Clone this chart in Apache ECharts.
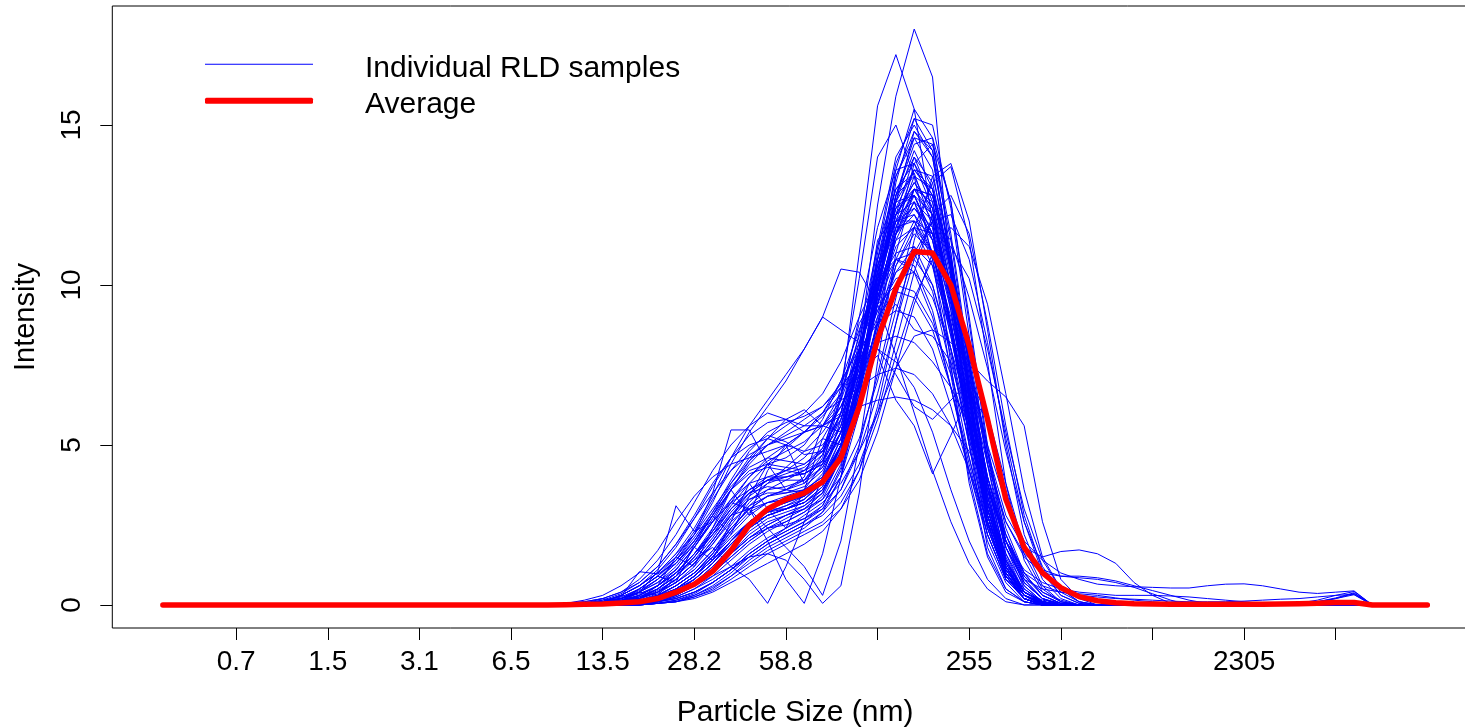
<!DOCTYPE html>
<html><head><meta charset="utf-8">
<script src="https://cdn.jsdelivr.net/npm/echarts@6.0.0/dist/echarts.min.js"></script>
<style>html,body{margin:0;padding:0;background:#fff}#chart{width:1465px;height:728px}</style>
</head><body><div id="chart"></div>
<script>
// 70 DLS size bins (nm); x position of each bin is its 1-based index
const sizeBinsNm = [0.4,0.4632,0.5365,0.6213,0.7195,0.8332,0.9649,1.117,1.294,1.499,1.736,2.01,2.328,2.696,3.122,3.615,4.187,4.849,5.615,6.503,7.531,8.721,10.1,11.7,13.54,15.69,18.17,21.04,24.36,28.21,32.67,37.84,43.82,50.75,58.77,68.06,78.82,91.28,105.7,122.4,141.8,164.2,190.1,220.2,255.0,295.3,342.0,396.1,458.7,531.2,615.1,712.4,825.0,955.4,1106,1281,1484,1718,1990,2305,2669,3091,3580,4145,4801,5560,6439,7456,8635,10000];
const tickBins = [5,10,15,20,25,30,35,40,45,50,55,60,65];
const tickLabels = ['0.7','1.5','3.1','6.5','13.5','28.2','58.8','','255','531.2','','2305',''];
const yTicks = [0,5,10,15];

// Individual samples: values start at bin 22; bins outside a list are 0
const SAMPLE_FIRST_BIN = 22;
const s01 = [0,0,0,0.05,0.1,0.2,0.4,0.8,1.3,2.0,2.8,3.3,3.6,3.7,3.9,4.5,6.0,8.5,11.2,13.0,13.5,11.8,8.6,5.2,2.5,1.0,0.3,0.1,0];
const s02 = [0,0,0,0,0.05,0.1,0.3,0.6,1.0,1.6,2.4,3.0,3.2,3.3,3.5,3.9,5.0,7.2,10.0,12.6,14.2,13.0,9.8,6.0,2.8,1.1,0.4,0.1,0];
const s03 = [0,0,0,0.1,0.2,0.4,0.7,1.1,1.8,2.7,3.6,4.2,4.4,4.3,4.2,4.5,5.4,7.4,9.6,11.2,11.8,10.6,8.0,5.0,2.4,0.9,0.3,0.1,0];
const s04 = [0,0,0,0,0,0.1,0.2,0.4,0.8,1.3,2.0,2.6,3.0,3.0,3.2,3.6,4.6,6.8,9.8,12.6,14.8,14.0,10.6,6.4,3.0,1.1,0.3,0,0];
const s05 = [0,0,0,0,0,0.05,0.1,0.3,0.6,1.0,1.6,2.2,2.6,2.8,3.0,3.5,5.0,8.0,12.5,15.9,18.0,16.5,10.2,5.0,1.8,0.5,0.1,0];
const s06 = [0,0,0,0,0,0.1,0.2,0.4,0.8,1.3,2.0,2.6,3.0,3.3,3.6,4.4,6.5,11.0,15.6,17.2,15.5,12.0,7.5,3.8,1.5,0.4,0.1,0];
const s07 = [0,0,0,0,0,0,0.1,0.3,0.6,1.1,1.7,2.3,2.7,2.9,3.1,3.5,4.6,7.0,10.4,13.6,15.5,14.6,11.0,6.6,3.0,1.0,0.2,0];
const s08 = [0,0,0,0,0.05,0.1,0.3,0.6,1.0,1.6,2.4,3.0,3.4,3.6,3.9,4.7,6.8,10.2,14.0,15.0,13.4,10.8,7.2,4.0,1.6,0.5,0.1,0];
const s09 = [0,0,0,0,0,0,0.05,0.1,0.3,0.6,1.0,1.5,1.9,2.2,2.5,2.9,3.6,5.0,7.2,9.6,11.8,13.2,13.7,11.4,7.6,3.8,1.4,0.4,0.1,0];
const s10 = [0,0,0.05,0.1,0.2,0.4,0.8,1.4,2.2,3.2,4.4,5.4,6.2,7.0,8.0,9.0,10.5,10.4,9.4,7.8,6.0,4.2,2.6,1.3,0.5,0.1,0];
const s11 = [0,0,0.05,0.1,0.3,0.6,1.0,1.6,2.4,3.4,4.6,5.6,6.4,7.2,8.0,9.0,8.6,8.2,8.0,7.6,6.8,5.4,3.6,2.0,0.8,0.2,0];
const s12 = [0,0,0,0.05,0.1,0.2,0.4,0.7,1.1,1.7,2.5,3.2,3.8,4.3,4.8,5.4,6.2,7.2,7.8,6.4,5.6,4.1,5.3,6.6,5.8,3.6,1.6,0.5,0.1,0];
const s13 = [0,0,0.05,0.1,0.3,0.6,1.0,1.6,2.2,3.5,5.47,5.47,4.4,4.6,5.0,5.8,7.0,8.6,10.0,11.0,11.2,10.0,7.8,5.0,2.4,0.9,0.2,0];
const s14 = [0,0,0,0.05,0.15,0.4,1.04,3.1,2.3,2.6,3.2,3.6,3.9,4.2,4.6,5.2,6.2,7.6,9.2,10.4,10.8,10.0,8.0,5.4,2.8,1.1,0.3,0.05,0];
const s15 = [0,0,0.05,0.15,0.26,1.04,0.97,1.3,1.9,2.6,3.3,3.8,4.0,4.0,4.1,4.4,5.2,6.8,8.8,10.4,11.2,10.6,8.6,5.8,3.0,1.2,0.3,0.05,0];
const s16 = [0,0,0,0.05,0.1,0.3,0.6,1.0,1.4,1.8,1.2,0.8,0.05,1.2,2.6,4.0,5.8,8.0,10.2,12.0,12.8,11.6,8.8,5.6,2.6,0.9,0.2,0];
const s17 = [0,0,0,0,0.05,0.2,0.5,1.0,1.6,2.2,2.8,3.0,2.0,0.8,0.05,1.6,4.0,7.0,10.0,12.2,13.2,12.4,9.6,6.0,2.8,1.0,0.2,0];
const s18 = [0,0,0,0.05,0.1,0.3,0.6,1.1,1.8,2.6,3.2,3.0,2.4,1.8,1.2,0.3,2.0,5.0,8.6,11.6,13.0,12.6,10.0,6.6,3.2,1.2,0.3,0];
const s19 = [0,0,0,0,0.05,0.1,0.2,0.4,0.6,0.9,1.2,1.5,1.6,1.4,0.8,0.05,0.6,3.5,7.6,11.0,13.0,12.8,10.4,7.0,3.6,1.3,0.3,0];
const s20 = [0,0,0.05,0.1,0.3,0.6,1.0,1.5,2.2,3.0,3.8,4.5,5.0,5.3,5.6,6.0,6.4,6.8,7.2,7.4,7.2,6.6,5.6,4.2,2.6,1.3,0.5,0.1,0];
const s21 = [0,0,0,0.1,0.2,0.5,0.9,1.4,2.0,2.8,3.6,4.4,5.0,5.4,5.8,6.2,6.8,7.6,8.2,8.4,8.2,7.6,6.8,5.6,4.0,2.2,0.9,0.3,0.05,0];
const s22 = [0,0,0,0,0,0.05,0.1,0.2,0.4,0.7,1.1,1.6,2.0,2.4,2.8,3.2,3.8,4.8,6.0,7.4,8.4,8.6,8.2,7.6,7.0,6.5,5.6,2.6,0.8,0.2,0];
const s23 = [0,0,0,0,0.05,0.1,0.2,0.4,0.7,1.2,1.8,2.4,2.8,3.0,3.2,3.6,4.6,6.4,8.6,10.6,11.8,11.6,10.0,7.6,4.8,2.8,1.8,1.5,1.67,1.72,1.6,1.3,0.7,0.3,0.05,0];
const s24 = [0,0,0,0,0.05,0.1,0.3,0.5,0.9,1.4,2.0,2.6,3.0,3.2,3.4,3.8,4.8,6.6,8.8,10.8,12.0,11.6,9.8,7.4,5.0,3.2,2.0,1.4,1.0,0.8,0.65,0.6,0.57,0.55,0.53,0.53,0.6,0.65,0.66,0.6,0.5,0.4,0.36,0.4,0.44,0];
const s25 = [0,0,0,0.05,0.1,0.25,0.5,0.9,1.5,2.2,3.0,3.6,4.0,4.2,4.4,4.9,6.0,8.0,10.6,12.4,13.0,12.2,9.6,6.4,3.4,1.4,0.4,0.1,0];
const s26 = [0,0,0,0,0.05,0.15,0.35,0.7,1.2,1.9,2.7,3.3,3.5,3.5,3.6,4.0,5.2,7.6,10.8,13.4,14.6,13.6,10.4,6.6,3.2,1.2,0.3,0];
const s27 = [0,0.05,0.1,0.2,0.4,0.7,1.2,1.9,2.8,3.8,4.6,5.0,5.2,5.0,4.8,5.0,5.8,7.4,9.4,10.8,11.0,9.8,7.4,4.6,2.2,0.8,0.2,0];
const s28 = [0,0,0,0,0,0.05,0.15,0.3,0.6,1.0,1.5,2.0,2.4,2.6,2.9,3.4,4.6,6.8,9.8,12.8,14.6,14.4,11.6,7.6,3.8,1.4,0.4,0.1,0];
const s29 = [0,0,0,0.05,0.1,0.2,0.5,0.9,1.5,2.3,3.2,4.0,4.6,5.0,5.4,5.9,6.6,7.8,9.2,10.2,10.4,9.6,8.0,6.0,3.8,2.0,0.8,0.2,0];
const s30 = [0,0,0,0,0.05,0.1,0.2,0.4,0.7,1.1,1.6,2.1,2.4,2.5,2.7,3.1,4.2,6.2,9.0,11.8,13.4,13.0,10.8,7.6,4.4,2.0,0.7,0.2,0];
const s31 = [0,0,0,0,0,0.05,0.1,0.25,0.5,0.8,1.2,1.7,2.1,2.4,2.7,3.0,3.6,4.8,6.6,8.8,10.8,12.0,12.2,10.8,8.2,5.2,2.6,1.0,0.3,0.05,0];
const s32 = [0,0,0.05,0.1,0.2,0.4,0.7,1.2,1.9,2.8,3.8,4.6,5.2,5.6,6.0,6.6,7.6,9.0,10.2,10.8,10.4,9.0,6.8,4.4,2.2,0.8,0.2,0];
const s33 = [0,0,0,0,0.05,0.1,0.3,0.6,1.0,1.5,2.1,2.6,2.9,3.0,3.2,3.7,5.0,7.6,11.0,13.8,15.2,14.2,10.6,6.4,2.8,0.9,0.2,0];
const s34 = [0,0,0.05,0.15,0.35,0.7,1.2,1.9,2.7,3.5,4.2,4.7,5.0,5.2,5.4,5.6,5.9,6.2,6.4,6.5,6.4,6.1,5.6,4.8,3.6,2.2,1.0,0.3,0.05,0];
const s35 = [0,0,0,0,0,0,0.05,0.1,0.25,0.5,0.9,1.4,1.8,2.1,2.4,2.9,4.0,6.4,9.8,13.2,15.2,15.0,12.4,8.4,4.4,1.6,0.4,0.1,0];
const s36 = [0,0,0,0.05,0.1,0.2,0.45,0.8,1.3,1.9,2.6,3.1,3.4,3.5,3.7,4.2,5.4,7.6,10.4,12.4,12.8,11.6,9.2,6.2,3.4,1.4,0.4,0.1,0];
const s37 = [0,0,0,0.05,0.15,0.3,0.6,1.1,1.8,2.6,3.6,4.5,5.2,5.8,6.1,5.6,5.4,6.4,8.4,10.6,11.6,11.0,8.8,5.8,2.8,1.0,0.2,0];
const s38 = [0,0,0,0,0.05,0.1,0.2,0.35,0.6,1.0,1.5,2.0,2.4,2.7,3.0,3.5,4.6,6.6,9.4,12.0,13.6,13.4,11.0,7.4,3.8,1.4,0.4,0.1,0];
const s39 = [0,0,0,0.05,0.1,0.2,0.4,0.7,1.1,1.7,2.4,3.0,3.4,3.6,3.8,4.3,5.4,7.4,9.8,11.6,12.2,11.4,9.4,6.8,4.4,2.6,1.6,1.1,0.9,0.85,0.8,0.7,0.55,0.35,0.15,0];
const s40 = [0,0,0,0,0.05,0.15,0.3,0.6,1.0,1.5,2.2,2.8,3.2,3.4,3.6,4.0,5.0,7.0,9.8,12.2,13.2,12.4,9.6,6.2,3.2,1.2,0.4,0.15,0.05,0,0,0,0,0,0,0,0,0,0,0,0,0.02,0.1,0.22,0.38,0];
const s41 = [0,0,0,0.05,0.1,0.25,0.5,0.9,1.4,2.1,2.9,3.5,3.9,4.0,4.1,4.5,5.6,7.8,10.4,12.0,12.2,11.0,8.6,5.8,3.0,1.2,0.4,0.1,0,0,0,0,0,0,0,0,0,0,0,0,0.02,0.06,0.15,0.3,0.42,0];
const s42 = [0,0,0,0,0.05,0.1,0.25,0.5,0.9,1.4,2.0,2.5,2.8,3.0,3.2,3.7,4.8,6.8,9.4,11.6,12.8,12.2,10.0,7.0,4.0,2.0,1.0,0.6,0.4,0.3,0.25,0.2,0.18,0.15,0.12,0.1,0.1,0.1,0.12,0.15,0.18,0.2,0.25,0.3,0.33,0];
const s43 = [0,0,0.05,0.1,0.2,0.35,0.6,1.0,1.6,2.4,3.3,4.0,4.5,4.8,5.1,5.6,6.6,8.4,10.6,12.0,12.0,10.8,8.4,5.6,3.0,1.2,0.3,0.05,0];
const s44 = [0,0.05,0.1,0.2,0.4,0.8,1.4,2.2,3.2,4.2,5.0,5.6,6.0,5.8,5.4,5.6,6.4,8.0,9.8,10.8,10.6,9.2,6.8,4.2,2.0,0.7,0.1,0];
const s45 = [0,0,0,0,0,0.05,0.1,0.2,0.4,0.7,1.1,1.6,2.0,2.3,2.6,3.0,4.0,6.0,8.8,11.6,13.8,14.4,12.6,9.0,5.0,2.0,0.6,0.1,0];
const s46 = [0,0,0,0,0,0,0.05,0.15,0.3,0.55,0.9,1.3,1.7,2.0,2.3,2.6,3.2,4.2,5.8,7.8,9.6,10.8,11.2,10.2,8.0,5.4,3.0,1.4,0.5,0.1,0];
const s47 = [0,0,0,0.05,0.15,0.3,0.6,1.0,1.6,2.3,3.1,3.8,4.4,4.9,5.4,6.0,6.8,7.6,8.0,7.2,6.2,5.8,6.4,7.0,6.0,3.8,1.8,0.6,0.1,0];
const s48 = [0,0,0,0,0.05,0.1,0.25,0.5,0.8,1.3,1.9,2.5,2.9,3.1,3.3,3.8,5.0,7.2,10.2,12.8,14.0,13.2,10.4,6.8,3.4,1.2,0.3,0.05,0];
const s49 = [0,0,0,0.05,0.1,0.2,0.4,0.8,1.3,2.0,2.8,3.4,3.8,4.0,4.2,4.7,5.8,7.8,10.2,11.8,12.0,11.0,8.8,6.0,3.6,2.0,1.1,0.7,0.5,0.4,0.35,0.3,0.3,0.3,0.28,0.25,0.2,0.15,0.1,0.05,0];
const s50 = [0,0.05,0.15,0.3,0.6,1.0,1.7,2.6,3.4,4.0,4.4,4.6,4.8,5.0,5.4,6.0,7.0,8.0,8.8,9.2,9.0,8.0,6.2,4.2,2.2,0.8,0.2,0];
const s51 = [0,0,0,0,0.05,0.1,0.2,0.5,0.9,1.5,2.3,3.1,3.6,3.9,4.2,4.9,6.4,9.0,11.8,13.6,13.8,12.4,9.2,5.8,2.8,1.0,0.3,0.05,0];
const s52 = [0,0,0,0.05,0.2,0.5,0.9,1.5,2.3,3.3,4.2,4.9,5.3,5.1,4.7,4.8,5.6,7.2,9.4,11.4,12.6,12.0,9.8,6.6,3.4,1.3,0.4,0.1,0];
const s53 = [0,0,0,0,0,0.05,0.15,0.35,0.7,1.2,1.8,2.4,2.8,3.0,3.3,3.9,5.2,7.8,11.2,14.0,15.0,14.0,10.8,6.8,3.2,1.1,0.3,0];
const s54 = [0,0,0.05,0.1,0.25,0.5,0.9,1.4,2.1,2.9,3.7,4.3,4.6,4.5,4.4,4.8,6.0,8.2,10.8,12.6,12.8,11.4,8.6,5.4,2.6,0.9,0.2,0];
const s55 = [0,0,0,0,0.05,0.1,0.25,0.5,0.9,1.4,2.0,2.6,3.0,3.2,3.5,4.1,5.4,7.8,10.8,13.0,13.8,12.8,10.2,7.0,4.0,1.8,0.7,0.2,0];
const s56 = [0,0,0,0.05,0.1,0.3,0.6,1.0,1.6,2.3,3.0,3.5,3.7,3.6,3.5,3.9,5.0,7.0,9.6,11.4,11.8,11.0,9.0,6.4,3.8,1.8,0.7,0.2,0.05,0];
const s57 = [0,0,0,0,0.05,0.1,0.2,0.4,0.7,1.1,1.6,2.1,2.5,2.8,3.1,3.6,4.8,7.0,10.0,12.6,13.6,12.8,10.6,7.6,4.6,2.2,0.8,0.2,0];
const s58 = [0,0,0.05,0.1,0.3,0.6,1.1,1.8,2.7,3.7,4.6,5.3,5.7,5.8,5.6,5.6,6.2,7.6,9.0,9.8,9.6,8.6,6.8,4.6,2.4,0.9,0.2,0];
const s59 = [0,0,0,0,0,0.05,0.1,0.25,0.5,0.9,1.4,1.9,2.3,2.6,2.9,3.3,4.4,6.8,10.2,13.4,14.8,14.2,11.4,7.4,3.6,1.2,0.3,0];
const s60 = [0,0,0,0.05,0.1,0.2,0.4,0.8,1.3,2.0,2.8,3.5,3.9,4.1,4.3,4.8,6.0,8.0,10.4,12.0,12.4,11.6,9.6,6.8,4.0,2.0,0.9,0.4,0.15,0];
const s61 = [0,0,0,0,0.05,0.15,0.3,0.6,1.0,1.6,2.3,2.9,3.2,3.3,3.4,3.8,4.9,7.0,9.6,11.8,13.0,12.8,10.8,7.8,4.8,2.4,1.0,0.3,0.05,0];
const s62 = [0,0,0,0.1,0.2,0.4,0.8,1.3,2.0,2.9,3.9,4.8,5.4,5.7,5.9,6.2,6.9,8.2,9.4,10.0,9.8,8.8,7.2,5.2,3.2,1.6,0.6,0.1,0];
const s63 = [0,0,0,0,0,0,0.05,0.15,0.35,0.7,1.1,1.6,2.0,2.3,2.6,3.1,4.3,6.6,9.8,12.8,14.4,14.6,12.6,8.8,4.8,1.8,0.5,0.1,0];
const s64 = [0,0,0.05,0.1,0.2,0.45,0.8,1.3,2.0,2.8,3.6,4.1,4.3,4.2,4.1,4.4,5.6,7.8,10.4,12.2,12.6,11.4,8.8,5.6,2.8,1.0,0.3,0.05,0];
const s65 = [0,0,0,0,0.05,0.1,0.2,0.4,0.8,1.3,1.9,2.5,2.9,3.1,3.4,3.9,5.0,7.0,9.8,12.2,13.0,12.0,9.6,6.6,3.8,1.8,0.8,0.5,0.4,0.35,0.3,0.22,0.15,0.1,0.05,0];
const s66 = [0,0,0,0.05,0.1,0.25,0.5,0.9,1.5,2.2,3.0,3.6,3.9,3.9,3.9,4.3,5.4,7.6,10.6,12.8,13.4,12.2,9.4,6.0,3.0,1.1,0.3,0.05,0,0,0,0,0,0,0,0,0,0,0,0,0,0.03,0.1,0.2,0.32,0];
const s67 = [0,0,0,0,0.05,0.1,0.2,0.45,0.8,1.3,1.9,2.4,2.8,3.0,3.3,3.8,5.0,7.2,10.0,12.4,13.6,13.0,10.6,7.2,3.8,1.5,0.4,0.1,0,0,0,0,0,0,0,0,0,0,0,0,0,0.02,0.08,0.2,0.36,0];
const s68 = [0,0,0,0.1,0.3,0.2,0.6,1.5,1.2,2.4,3.6,2.8,4.2,5.0,3.8,4.6,6.6,8.8,9.8,11.6,12.6,11.0,8.4,5.6,2.6,0.9,0.2,0];
const s69 = [0,0,0,0.05,0.1,0.4,0.3,0.9,1.8,1.4,2.6,3.8,3.0,2.4,3.6,5.2,5.0,7.8,11.4,12.2,14.0,12.6,9.6,5.8,2.6,0.8,0.2,0];
const s70 = [0,0,0.05,0.2,0.1,0.5,0.9,0.7,1.9,2.8,2.2,3.4,4.4,3.6,4.0,5.6,6.0,6.8,8.8,9.4,8.6,8.4,7.6,5.4,3.2,1.4,0.4,0.05,0];
const s71 = [0,0,0,0,0.05,0.1,0.25,0.5,0.9,1.4,2.0,2.6,3.0,3.2,3.4,3.9,5.0,7.0,9.6,11.6,12.4,11.8,9.8,7.2,4.6,2.6,1.5,1.0,0.9,0.9,0.85,0.75,0.6,0.45,0.3,0.15,0.05,0];
const s72 = [0,0,0,0,0,0,0.05,0.1,0.25,0.45,0.8,1.2,1.6,1.9,2.2,2.5,3.0,3.9,5.4,7.4,9.4,11.0,11.8,11.2,9.4,6.6,3.6,1.5,0.5,0.1,0];
const s73 = [0,0,0,0,0,0.05,0.1,0.2,0.4,0.7,1.1,1.5,1.9,2.2,2.5,2.8,3.4,4.4,6.0,8.2,10.4,12.2,12.8,11.6,8.8,5.6,2.8,1.1,0.3,0.05,0];
const s74 = [0,0,0,0,0.05,0.1,0.2,0.4,0.7,1.1,1.6,2.1,2.5,2.8,3.0,3.3,4.0,5.2,7.0,9.2,11.0,12.0,11.4,9.6,7.4,4.8,2.6,1.2,0.4,0.1,0];
const s75 = [0,0,0,0,0,0,0.05,0.1,0.2,0.4,0.7,1.0,1.3,1.6,1.9,2.3,3.0,4.2,6.2,8.8,11.4,13.4,13.8,12.0,8.6,5.0,2.2,0.8,0.2,0];
const samples = [s01,s02,s03,s04,s05,s06,s07,s08,s09,s10,s11,s12,s13,s14,s15,s16,s17,s18,s19,s20,s21,s22,s23,s24,s25,s26,s27,s28,s29,s30,s31,s32,s33,s34,s35,s36,s37,s38,s39,s40,s41,s42,s43,s44,s45,s46,s47,s48,s49,s50,s51,s52,s53,s54,s55,s56,s57,s58,s59,s60,s61,s62,s63,s64,s65,s66,s67,s68,s69,s70,s71,s72,s73,s74,s75];

// Average curve, bins 1..70
const averageValues = [0,0,0,0,0,0,0,0,0,0,0,0,0,0,0,0,0,0,0,0,0,0,0.01,0.02,0.03,0.06,0.1,0.2,0.4,0.65,1.05,1.7,2.5,3.0,3.3,3.5,3.85,4.6,6.2,8.3,9.9,11.05,11.0,10.0,8.1,5.8,3.3,1.8,1.0,0.54,0.26,0.13,0.07,0.04,0.03,0.02,0.02,0.02,0.02,0.02,0.02,0.03,0.04,0.05,0.08,0.08,0,0,0,0];

const SAMPLE_NAME = 'Individual RLD samples';
const AVG_NAME = 'Average';
const FONT = '"Liberation Sans", Arial, sans-serif';

function sampleData(vals) {
  return sizeBinsNm.map((_, i) => {
    const bin = i + 1, k = bin - SAMPLE_FIRST_BIN;
    return [bin, (k >= 0 && k < vals.length) ? vals[k] : 0];
  });
}

const series = samples.map(vals => ({
  name: SAMPLE_NAME, type: 'line', data: sampleData(vals),
  symbol: 'none', showSymbol: false, silent: true, animation: false,
  lineStyle: { color: '#0000ff', width: 1 }, itemStyle: { color: '#0000ff' }, z: 2
}));
series.push({
  name: AVG_NAME, type: 'line', data: averageValues.map((v, i) => [i + 1, v]),
  symbol: 'none', showSymbol: false, silent: true, animation: false,
  lineStyle: { color: '#ff0000', width: 5.5, cap: 'round', join: 'round' }, itemStyle: { color: '#ff0000' }, z: 5
});

const legendText = {
  fontFamily: FONT, fontSize: 30, color: '#000', padding: [0, 0, 0, 47],
  rich: { t: { fontFamily: FONT, fontSize: 30, color: '#000', lineHeight: 30, padding: [8, 0, 0, 0] } }
};
const legendFmt = name => '{t|' + name + '}';
const chart = echarts.init(document.getElementById('chart'), null, { renderer: 'canvas' });
chart.setOption({
  backgroundColor: '#ffffff',
  animation: false,
  textStyle: { fontFamily: FONT },
  grid: { left: 112.3, right: -12.9, top: 6, bottom: 100, show: true, borderColor: '#000', borderWidth: 1, backgroundColor: 'transparent', outerBoundsMode: 'none', containLabel: false },
  legend: [
    { orient: 'vertical', left: 205, top: 45.3, padding: 0, itemWidth: 108, itemHeight: 1, icon: 'rect',
      data: [SAMPLE_NAME], selectedMode: false, textStyle: legendText, formatter: legendFmt },
    { orient: 'vertical', left: 205, top: 81.7, padding: 0, itemWidth: 108, itemHeight: 6, icon: 'roundRect',
      data: [AVG_NAME], selectedMode: false, textStyle: legendText, formatter: legendFmt }
  ],
  xAxis: {
    type: 'value', min: -1.76, max: 72.76,
    name: 'Particle Size (nm)', nameLocation: 'middle', nameGap: 70,
    nameTextStyle: { fontFamily: FONT, fontSize: 30, color: '#000' },
    axisLine: { show: false, onZero: false },
    splitLine: { show: false },
    axisTick: { show: true, inside: false, customValues: tickBins, length: 12, lineStyle: { color: '#000', width: 1 } },
    axisLabel: { customValues: tickBins, margin: 20, fontFamily: FONT, fontSize: 28, color: '#000',
      formatter: v => { const i = tickBins.indexOf(Math.round(v)); return i >= 0 ? tickLabels[i] : ''; } }
  },
  yAxis: {
    type: 'value', min: -0.72, max: 18.72,
    name: 'Intensity', nameLocation: 'middle', nameGap: 72, nameRotate: 90,
    nameTextStyle: { fontFamily: FONT, fontSize: 29, color: '#000' },
    axisLine: { show: false, onZero: false },
    splitLine: { show: false },
    axisTick: { show: true, inside: false, customValues: yTicks, length: 12, lineStyle: { color: '#000', width: 1 } },
    axisLabel: { customValues: yTicks, rotate: 90, margin: 26, fontFamily: FONT, fontSize: 28, color: '#000' }
  },
  series: series
});
</script></body></html>
